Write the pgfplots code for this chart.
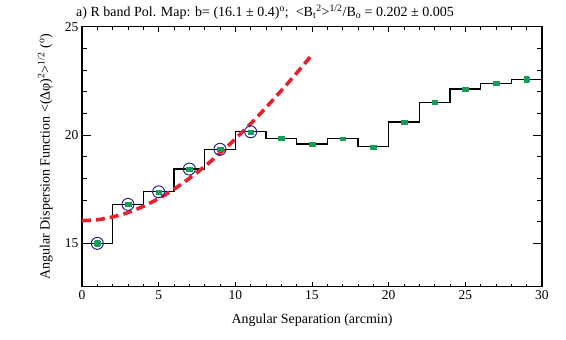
\documentclass[border=0pt]{standalone}
\usepackage{fontspec}
\setmainfont{Liberation Serif}
\usepackage{pgfplots}
\pgfplotsset{compat=1.18}
\definecolor{fitred}{RGB}{232,32,44}
\definecolor{ptgreen}{RGB}{22,158,88}
\definecolor{ringblue}{RGB}{35,35,140}

\begin{document}
\begin{tikzpicture}
\path[use as bounding box] (-82pt,-53.3pt) rectangle (484pt,286.7pt);
\begin{axis}[
  scale only axis, width=460pt, height=260pt,
  at={(0,0)}, anchor=south west,
  xmin=0, xmax=30, ymin=13, ymax=25,
  xtick={0,5,...,30}, ytick={15,20,25},
  minor x tick num=4, minor y tick num=4,
  tick align=inside, tick pos=both,
  xticklabel pos=lower, yticklabel pos=left,
  axis line style={line width=1.1pt},
  every tick/.style={black, line width=0.9pt},
  xtick style={/pgfplots/major tick length=5pt, /pgfplots/minor tick length=3pt},
  ytick style={/pgfplots/major tick length=9pt, /pgfplots/minor tick length=5pt},
  /pgf/number format/assume math mode=true,
  tick label style={font=\fontsize{13.5}{15}\selectfont},
  xlabel={Angular Separation (arcmin)},
  ylabel={Angular Dispersion Function <(Δφ)\textsuperscript{2}>\textsuperscript{1/2} (\textsuperscript{o})},
  every axis x label/.style={at={(axis description cs:0.5,-0.127)}, anchor=center,
    font=\fontsize{14}{16}\selectfont},
  every axis y label/.style={at={(axis description cs:-0.08,0.5)}, rotate=90, anchor=center,
    font=\fontsize{14}{16}\selectfont},
]
  % binned dispersion, steps at even separations
  \addplot[const plot mark left, black, line width=1.4pt] coordinates {
    (0,15.00) (2,16.80) (4,17.38) (6,18.43) (8,19.34) (10,20.15)
    (12,19.85) (14,19.58) (16,19.83) (18,19.46) (20,20.60) (22,21.51)
    (24,22.13) (26,22.38) (28,22.57) (30,22.57)
  };

  % fit to the first points
  \addplot[fitred, line width=3.6pt, dash pattern=on 9pt off 5pt, smooth] coordinates {
    (0,16.05) (1,16.09) (2,16.22) (3,16.42) (4,16.71) (5,17.07)
    (6,17.50) (7,18.00) (8,18.55) (9,19.16) (10,19.82) (11,20.52)
    (12,21.27) (13,22.05) (14,22.86) (15,23.70)
  };

  % points used in the fit
  \addplot[only marks, mark=o, mark size=6pt, ringblue, mark options={line width=1pt}] coordinates {
    (1,15.00) (3,16.80) (5,17.38) (7,18.43) (9,19.34) (11,20.15)
  };

  % data with error bars
  \addplot[only marks, mark=square*, ptgreen,
    mark options={xscale=1.3, yscale=0.9}, mark size=2.2pt,
    error bars/.cd, y dir=both, y explicit,
    error bar style={line width=1pt, ptgreen},
    error mark options={rotate=90, mark size=2.6pt, ptgreen, line width=1pt}]
  coordinates {
    (1,15.00) +- (0,0.13)
    (3,16.80) +- (0,0.07)
    (5,17.38) +- (0,0.05)
    (7,18.43) +- (0,0.05)
    (9,19.34) +- (0,0.05)
    (11,20.15) +- (0,0.05)
    (13,19.85) +- (0,0.04)
    (15,19.58) +- (0,0.04)
    (17,19.83) +- (0,0.05)
    (19,19.46) +- (0,0.05)
    (21,20.60) +- (0,0.05)
    (23,21.51) +- (0,0.05)
    (25,22.13) +- (0,0.06)
    (27,22.38) +- (0,0.08)
    (29,22.57) +- (0,0.13)
  };
\end{axis}
\node[font=\fontsize{14}{16}\selectfont] at (183pt,274.5pt)
  {a) R band Pol. Map: b= (16.1 ± 0.4)\textsuperscript{o};\ \ <B\textsubscript{t}\textsuperscript{2}>\textsuperscript{1/2}/B\textsubscript{o} = 0.202 ± 0.005};
\end{tikzpicture}
\end{document}
